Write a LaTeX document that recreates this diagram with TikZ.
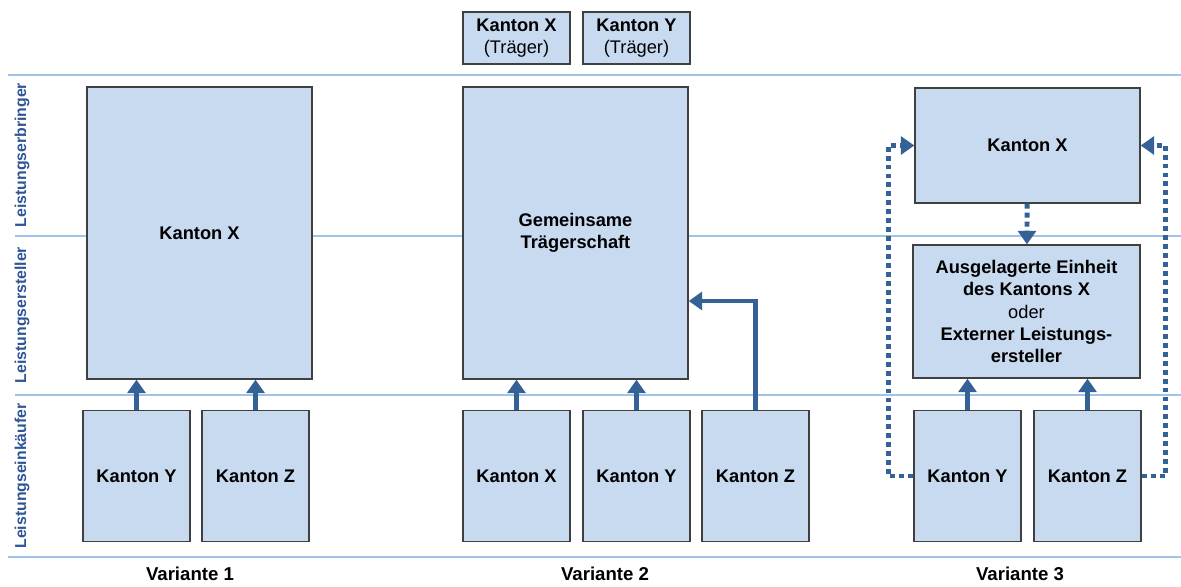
\documentclass[tikz,border=0pt]{standalone}
\usepackage{fontspec}
\setmainfont{Liberation Sans}
\usepackage{tikz}
\usetikzlibrary{arrows.meta}
\definecolor{boxfill}{RGB}{200,218,240}
\definecolor{arrowblue}{RGB}{52,98,150}
\definecolor{rowline}{RGB}{160,195,232}
\definecolor{rowtext}{RGB}{47,85,151}

\begin{document}
\begin{tikzpicture}[x=0.02cm,y=-0.02cm]
\tikzset{>={Triangle[width=0.36cm,length=0.27cm]}}
\tikzstyle{box} =[draw=black!75,line width=0.8pt,fill=boxfill,inner sep=0pt,align=center,
  font=\fontsize{10.4}{12.6}\selectfont\bfseries]
\tikzstyle{bigbox} =[box,minimum width=4.5cm,minimum height=5.84cm]
\tikzstyle{buyer} =[box,minimum width=2.14cm,minimum height=2.62cm]
\tikzstyle{carrier} =[box,minimum width=2.14cm,minimum height=1.04cm]
\tikzstyle{flow} =[->,line width=2.8pt,color=arrowblue]
\tikzstyle{dotflow} =[flow,dash pattern=on 2.8pt off 2.3pt]
\tikzstyle{rowlabel} =[rotate=90,text=rowtext,font=\fontsize{9}{11}\selectfont\bfseries]
\tikzstyle{variant} =[inner sep=1pt,font=\fontsize{10.6}{12}\selectfont\bfseries]
\useasboundingbox (0,0) rectangle (1181,586);

% rows
\draw[rowline,line width=0.8pt] (8,75) -- (1181,75);
\draw[rowline,line width=0.8pt] (15,236) -- (1181,236);
\draw[rowline,line width=0.8pt] (15,395) -- (1181,395);
\draw[rowline,line width=0.8pt] (8,557) -- (1181,557);
\node[rowlabel](r1) at (22,155){Leistungserbringer};
\node[rowlabel](r2) at (22,315){Leistungsersteller};
\node[rowlabel](r3) at (22,476){Leistungseinkäufer};

% Variante 1
\node[bigbox](kx1) at (199.5,233){Kanton X};
\node[buyer](ky1) at (136.5,476){Kanton Y};
\node[buyer](kz1) at (255.5,476){Kanton Z};
\draw [flow] (ky1) -- (ky1 |- kx1.south);
\draw [flow] (kz1) -- (kz1 |- kx1.south);
\node[variant](var1) at (190,574){Variante 1};

% Variante 2
\node[carrier](tx2) at (516.5,38){Kanton X\\\mdseries (Träger)};
\node[carrier](ty2) at (636.5,38){Kanton Y\\\mdseries (Träger)};
\node[bigbox](gts) at (575.5,233){Gemeinsame\\Trägerschaft};
\node[buyer](kx2) at (516.5,476){Kanton X};
\node[buyer](ky2) at (636.5,476){Kanton Y};
\node[buyer](kz2) at (755.5,476){Kanton Z};
\draw [flow] (kx2) -- (kx2 |- gts.south);
\draw [flow] (ky2) -- (ky2 |- gts.south);
\draw [flow] (kz2.north) |- ([yshift=-1.36cm]gts.east);
\node[variant](var2) at (605,574){Variante 2};

% Variante 3
\node[box,minimum width=4.5cm,minimum height=2.3cm](kx3) at (1027.5,145.5){Kanton X};
\node[box,minimum width=4.54cm,minimum height=2.66cm](aus) at (1026.5,311.5)
  {Ausgelagerte Einheit\\des Kantons X\\\mdseries oder\\Externer Leistungs-\\ersteller};
\node[buyer](ky3) at (967.5,476){Kanton Y};
\node[buyer](kz3) at (1087.5,476){Kanton Z};
\draw [flow] (ky3) -- (ky3 |- aus.south);
\draw [flow] (kz3) -- (kz3 |- aus.south);
\draw [dotflow] (kx3) -- (aus);
\draw [dotflow] (ky3.west) -- ++(-25,0) |- (kx3.west);
\draw [dotflow] (kz3.east) -- ++(24,0) |- (kx3.east);
\node[variant](var3) at (1020,574){Variante 3};
\end{tikzpicture}
\end{document}
